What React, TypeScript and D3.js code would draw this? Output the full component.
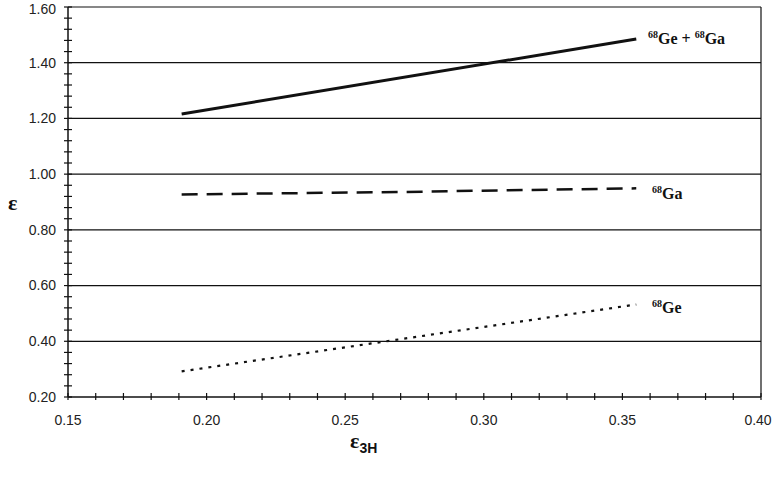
import React from "react";
import * as d3 from "d3";

const W = 774;
const H = 478;

const xTicks = [0.15, 0.2, 0.25, 0.3, 0.35, 0.4];
const yTicks = [0.2, 0.4, 0.6, 0.8, 1.0, 1.2, 1.4, 1.6];

const sumX = [0.191, 0.355];
const sumY = [1.216, 1.485];
const gaX = [0.191, 0.27, 0.355];
const gaY = [0.927, 0.936, 0.949];
const geX = [0.191, 0.355];
const geY = [0.292, 0.532];

export default function App() {
  const x = d3.scaleLinear().domain([0.15, 0.4]).range([68, 761]);
  const y = d3.scaleLinear().domain([0.2, 1.6]).range([397, 7]);
  const line = d3
    .line<[number, number]>()
    .x((d) => x(d[0]))
    .y((d) => y(d[1]));
  const zip = (a: number[], b: number[]) => a.map((v, i) => [v, b[i]] as [number, number]);

  const xMinor = d3.range(0, 26).map((i) => 0.15 + i * 0.01);
  const yMinor = d3.range(0, 36).map((i) => 0.2 + i * 0.04);

  const tickFont = "'Liberation Sans', Arial, sans-serif";
  const serif = "'Liberation Serif', 'Times New Roman', serif";

  return (
    <svg
      width={W}
      height={H}
      style={{ position: "absolute", left: 0, top: 0, background: "#fff" }}
    >
      {yTicks.slice(1).map((t) => (
        <line key={"g" + t} x1={x(0.15)} x2={x(0.4)} y1={y(t)} y2={y(t)} stroke="#111" strokeWidth={1.2} />
      ))}
      <line x1={x(0.15)} x2={x(0.15)} y1={y(0.2)} y2={y(1.6)} stroke="#111" strokeWidth={1.5} />
      <line x1={x(0.15)} x2={x(0.4)} y1={y(0.2)} y2={y(0.2)} stroke="#111" strokeWidth={1.5} />
      <line x1={x(0.4)} x2={x(0.4)} y1={y(0.2)} y2={y(1.6)} stroke="#111" strokeWidth={1.2} />
      {yMinor.map((t, i) => (
        <line key={"ym" + i} x1={x(0.15) - 4} x2={x(0.15) + 4} y1={y(t)} y2={y(t)} stroke="#111" strokeWidth={1.2} />
      ))}
      {xMinor.map((t, i) => (
        <line key={"xm" + i} x1={x(t)} x2={x(t)} y1={y(0.2) - 4} y2={y(0.2) + 3} stroke="#111" strokeWidth={1.2} />
      ))}
      {yTicks.map((t) => (
        <text key={"yl" + t} x={56} y={Math.max(y(t), 9)} dy="0.35em" textAnchor="end" fontFamily={tickFont} fontSize={14} fill="#222">
          {t.toFixed(2)}
        </text>
      ))}
      {xTicks.map((t) => (
        <text key={"xl" + t} x={Math.min(x(t), 758)} y={425} textAnchor="middle" fontFamily={tickFont} fontSize={14} fill="#222">
          {t.toFixed(2)}
        </text>
      ))}
      <path d={line(zip(sumX, sumY)) || ""} fill="none" stroke="#111" strokeWidth={3} />
      <path d={line(zip(gaX, gaY)) || ""} fill="none" stroke="#111" strokeWidth={2.5} strokeDasharray="16 9" />
      <path d={line(zip(geX, geY)) || ""} fill="none" stroke="#111" strokeWidth={2.2} strokeDasharray="3 6" />
      <text x={648} y={44} fontFamily={serif} fontWeight="bold" fontSize={16} fill="#111">
        <tspan fontSize={10} dy={-6}>68</tspan>
        <tspan dy={6}>Ge + </tspan>
        <tspan fontSize={10} dy={-6}>68</tspan>
        <tspan dy={6}>Ga</tspan>
      </text>
      <text x={652} y={199} fontFamily={serif} fontWeight="bold" fontSize={16} fill="#111">
        <tspan fontSize={10} dy={-6}>68</tspan>
        <tspan dy={6}>Ga</tspan>
      </text>
      <text x={652} y={313} fontFamily={serif} fontWeight="bold" fontSize={16} fill="#111">
        <tspan fontSize={10} dy={-6}>68</tspan>
        <tspan dy={6}>Ge</tspan>
      </text>
      <text x={8} y={210} fontFamily={serif} fontWeight="bold" fontSize={22} fill="#111">
        ε
      </text>
      <text x={350} y={448} fontFamily={serif} fontWeight="bold" fontSize={22} fill="#111">
        ε<tspan fontFamily={"'Liberation Sans', sans-serif"} fontSize={14} dy={5}>3H</tspan>
      </text>
    </svg>
  );
}
